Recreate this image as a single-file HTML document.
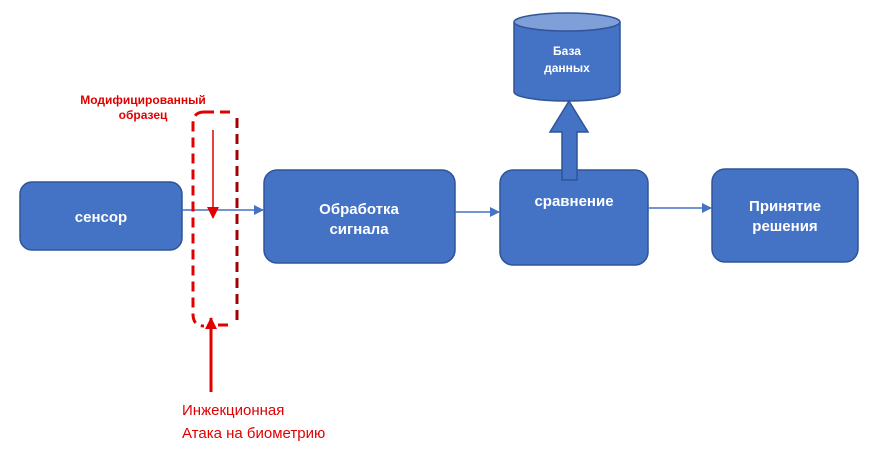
<!DOCTYPE html>
<html><head><meta charset="utf-8"><style>
html,body{margin:0;padding:0;background:#fff;}
svg{display:block;}
text{font-family:"Liberation Sans",sans-serif;font-weight:bold;}
</style></head><body>
<svg width="875" height="460" viewBox="0 0 875 460" xmlns="http://www.w3.org/2000/svg">
<defs>
<marker id="bl" markerWidth="10" markerHeight="10" refX="9" refY="5" orient="auto" markerUnits="userSpaceOnUse"><path d="M0,0 L10,5 L0,10 z" fill="#4472C4"/></marker>
<marker id="rd" markerWidth="12" markerHeight="12" refX="11" refY="6" orient="auto" markerUnits="userSpaceOnUse"><path d="M0,0 L12,6 L0,12 z" fill="#E00000"/></marker>
</defs>
<!-- boxes -->
<rect x="20" y="182" width="162" height="68" rx="12" fill="#4472C4" stroke="#2F5597" stroke-width="1.5"/>
<text x="101" y="222" fill="#fff" font-size="15" text-anchor="middle">сенсор</text>
<rect x="264" y="170" width="191" height="93" rx="13" fill="#4472C4" stroke="#2F5597" stroke-width="1.5"/>
<text x="359" y="214" fill="#fff" font-size="15" text-anchor="middle">Обработка</text>
<text x="359" y="234" fill="#fff" font-size="15" text-anchor="middle">сигнала</text>
<rect x="500" y="170" width="148" height="95" rx="13" fill="#4472C4" stroke="#2F5597" stroke-width="1.5"/>
<text x="574" y="206" fill="#fff" font-size="15" text-anchor="middle">сравнение</text>
<rect x="712" y="169" width="146" height="93" rx="13" fill="#4472C4" stroke="#2F5597" stroke-width="1.5"/>
<text x="785" y="211" fill="#fff" font-size="15" text-anchor="middle">Принятие</text>
<text x="785" y="231" fill="#fff" font-size="15" text-anchor="middle">решения</text>
<!-- cylinder -->
<path d="M514,22 L514,92 A53,9 0 0 0 620,92 L620,22" fill="#4472C4" stroke="#2F5597" stroke-width="1.5"/>
<ellipse cx="567" cy="22" rx="53" ry="9" fill="#7F9FD9" stroke="#2F5597" stroke-width="1.5"/>
<text x="567" y="55" fill="#fff" font-size="12" text-anchor="middle">База</text>
<text x="567" y="72" fill="#fff" font-size="12" text-anchor="middle">данных</text>
<!-- big arrow -->
<path d="M562,180 L562,132 L550,132 L569,101 L588,132 L577,132 L577,180 z" fill="#4472C4" stroke="#2F5597" stroke-width="1.5"/>
<!-- connectors -->
<line x1="182" y1="210" x2="263" y2="210" stroke="#4472C4" stroke-width="1.5" marker-end="url(#bl)"/>
<line x1="455" y1="212" x2="499" y2="212" stroke="#4472C4" stroke-width="1.5" marker-end="url(#bl)"/>
<line x1="648" y1="208" x2="711" y2="208" stroke="#4472C4" stroke-width="1.5" marker-end="url(#bl)"/>
<!-- dashed region -->
<path d="M204,112 Q193,112 193,124 L193,314 Q193,326 204,326" fill="none" stroke="#E00000" stroke-width="3" stroke-dasharray="10,6"/>
<line x1="204" y1="112" x2="230" y2="112" stroke="#E00000" stroke-width="3" stroke-dasharray="10,6"/>
<line x1="237" y1="118" x2="237" y2="322" stroke="#A00000" stroke-width="3" stroke-dasharray="10,6"/>
<line x1="218" y1="325" x2="228" y2="325" stroke="#E00000" stroke-width="3"/>
<!-- red arrows -->
<line x1="213" y1="130" x2="213" y2="218" stroke="#E00000" stroke-width="1.5" marker-end="url(#rd)"/>
<line x1="211" y1="392" x2="211" y2="318" stroke="#E00000" stroke-width="3" marker-end="url(#rd)"/>
<!-- red labels -->
<text x="143" y="104" fill="#E00000" font-size="12" text-anchor="middle">Модифицированный</text>
<text x="143" y="119" fill="#E00000" font-size="12" text-anchor="middle">образец</text>
<text x="182" y="415" fill="#E00000" font-size="15" font-weight="normal" style="font-weight:normal">Инжекционная</text>
<text x="182" y="438" fill="#E00000" font-size="15" style="font-weight:normal">Атака на биометрию</text>
</svg>
</body></html>
